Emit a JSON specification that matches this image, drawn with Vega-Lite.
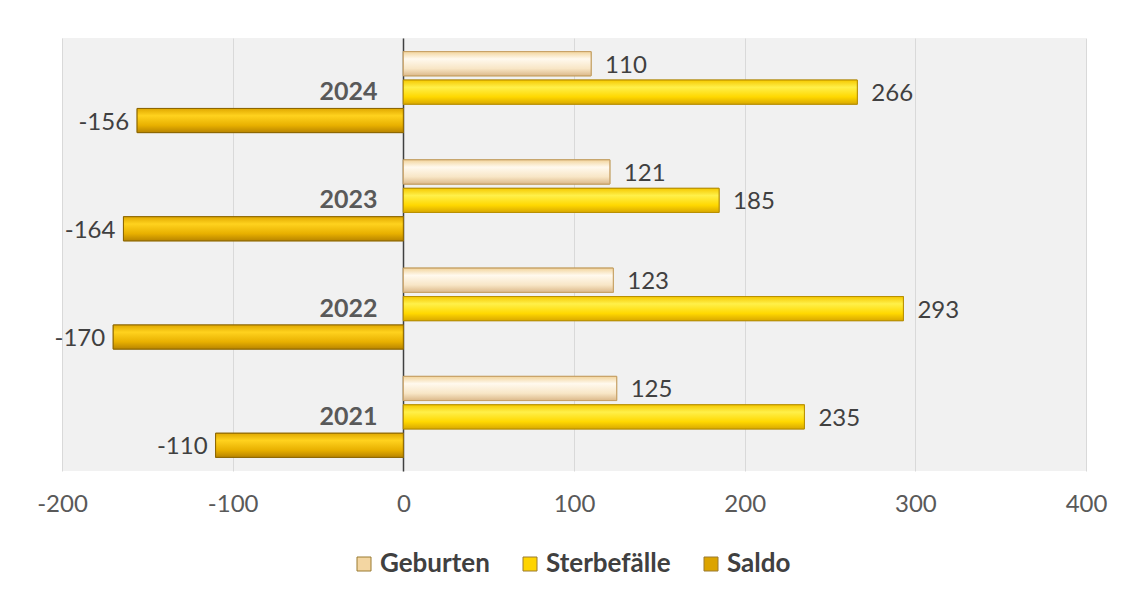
{
  "$schema": "https://vega.github.io/schema/vega-lite/v6.json",
  "autosize": {"type": "none"},
  "width": 1024,
  "height": 433,
  "padding": {"left": 62, "top": 38, "right": 44, "bottom": 127},
  "background": "white",
  "config": {
    "font": "Lato",
    "view": {"fill": "#f1f1f1", "stroke": null},
    "locale": {"number": {"decimal": ".", "thousands": ",", "grouping": [3], "currency": ["", ""], "minus": "-"}}
  },
  "data": {
    "values": [
      {"year": "2024", "series": "Geburten", "value": 110},
      {"year": "2024", "series": "Sterbefälle", "value": 266},
      {"year": "2024", "series": "Saldo", "value": -156},
      {"year": "2023", "series": "Geburten", "value": 121},
      {"year": "2023", "series": "Sterbefälle", "value": 185},
      {"year": "2023", "series": "Saldo", "value": -164},
      {"year": "2022", "series": "Geburten", "value": 123},
      {"year": "2022", "series": "Sterbefälle", "value": 293},
      {"year": "2022", "series": "Saldo", "value": -170},
      {"year": "2021", "series": "Geburten", "value": 125},
      {"year": "2021", "series": "Sterbefälle", "value": 235},
      {"year": "2021", "series": "Saldo", "value": -110}
    ]
  },
  "encoding": {
    "y": {
      "field": "year",
      "type": "nominal",
      "sort": ["2024", "2023", "2022", "2021"],
      "scale": {"paddingInner": 0.252, "paddingOuter": 0.126},
      "axis": {
        "title": null,
        "offset": -341,
        "domainColor": "#404040",
        "domainWidth": 1.5,
        "ticks": false,
        "grid": false,
        "labelPadding": 26,
        "labelFont": "Lato",
        "labelFontSize": 25,
        "labelFontWeight": "bold",
        "labelColor": "#595959"
      }
    },
    "yOffset": {
      "field": "series",
      "type": "nominal",
      "scale": {"domain": ["Geburten", "Sterbefälle", "Saldo"], "paddingInner": 0.15, "paddingOuter": 0}
    },
    "x": {
      "field": "value",
      "type": "quantitative",
      "scale": {"domain": [-200, 400], "nice": false},
      "axis": {
        "title": null,
        "values": [-200, -100, 0, 100, 200, 300, 400],
        "domain": false,
        "ticks": false,
        "grid": true,
        "gridColor": "#d9d9d9",
        "gridWidth": 1,
        "labelPadding": 21,
        "labelFont": "Lato",
        "labelFontSize": 24,
        "labelColor": "#595959",
        "labelFlush": false
      }
    }
  },
  "layer": [
    {
      "mark": {"type": "bar", "stroke": "#a8862a", "strokeWidth": 1},
      "encoding": {
        "color": {
          "field": "series",
          "type": "nominal",
          "scale": {"domain": ["Geburten", "Sterbefälle", "Saldo"], "range": ["#f3d6a2", "#ffd400", "#dca400"]},
          "legend": {
            "title": null,
            "orient": "none",
            "direction": "horizontal",
            "legendX": 289,
            "legendY": 513,
            "symbolType": "square",
            "symbolSize": 196,
            "symbolStrokeColor": "#9a7a30",
            "symbolStrokeWidth": 1,
            "symbolOpacity": 1,
            "labelFont": "Lato",
            "labelFontSize": 26,
            "labelFontWeight": "bold",
            "labelColor": "#404040",
            "labelOffset": 3,
            "columnPadding": 27
          }
        }
      }
    },
    {
      "transform": [{"filter": "datum.series === 'Geburten'"}],
      "mark": {
        "type": "bar",
        "stroke": "#c9a26a",
        "strokeWidth": 1,
        "fill": {
          "gradient": "linear", "x1": 0, "y1": 0, "x2": 0, "y2": 1,
          "stops": [
            {"offset": 0, "color": "#f2d49c"},
            {"offset": 0.3, "color": "#fff9ee"},
            {"offset": 0.7, "color": "#f8e6c6"},
            {"offset": 1, "color": "#dcb98a"}
          ]
        }
      }
    },
    {
      "transform": [{"filter": "datum.series === 'Sterbefälle'"}],
      "mark": {
        "type": "bar",
        "stroke": "#b89000",
        "strokeWidth": 1,
        "fill": {
          "gradient": "linear", "x1": 0, "y1": 0, "x2": 0, "y2": 1,
          "stops": [
            {"offset": 0, "color": "#f5c800"},
            {"offset": 0.3, "color": "#fff04a"},
            {"offset": 0.7, "color": "#ffd800"},
            {"offset": 1, "color": "#d9a800"}
          ]
        }
      }
    },
    {
      "transform": [{"filter": "datum.series === 'Saldo'"}],
      "mark": {
        "type": "bar",
        "stroke": "#8a6400",
        "strokeWidth": 1,
        "fill": {
          "gradient": "linear", "x1": 0, "y1": 0, "x2": 0, "y2": 1,
          "stops": [
            {"offset": 0, "color": "#e0a800"},
            {"offset": 0.3, "color": "#ffd21e"},
            {"offset": 0.7, "color": "#e8b000"},
            {"offset": 1, "color": "#b88400"}
          ]
        }
      }
    },
    {
      "transform": [{"filter": "datum.value > 0"}],
      "mark": {"type": "text", "align": "left", "baseline": "middle", "dx": 14, "dy": 2, "font": "Lato", "fontSize": 24, "color": "#404040"},
      "encoding": {"text": {"field": "value", "type": "quantitative"}}
    },
    {
      "transform": [{"filter": "datum.value < 0"}],
      "mark": {"type": "text", "align": "right", "baseline": "middle", "dx": -8, "dy": 2, "font": "Lato", "fontSize": 24, "color": "#404040"},
      "encoding": {"text": {"field": "value", "type": "quantitative"}}
    }
  ]
}
